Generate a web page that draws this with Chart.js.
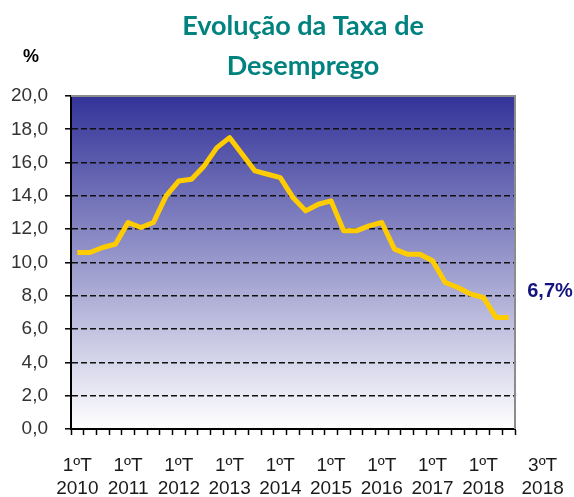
<!DOCTYPE html>
<html>
<head>
<meta charset="utf-8">
<script src="https://cdn.jsdelivr.net/npm/chart.js@4"></script>
<style>
html,body{margin:0;padding:0;background:#fff;}
#wrap{position:relative;width:574px;height:497px;}
canvas{display:block;}
</style>
</head>
<body>
<div id="wrap"><canvas id="c" width="574" height="497"></canvas></div>
<script>
// ---- data ----
const years = ["2010","2011","2012","2013","2014","2015","2016","2017","2018"];
const quarters = ["1ºT","2ºT","3ºT","4ºT"];
const categories = [
 "1ºT 2010","2ºT 2010","3ºT 2010","4ºT 2010",
 "1ºT 2011","2ºT 2011","3ºT 2011","4ºT 2011",
 "1ºT 2012","2ºT 2012","3ºT 2012","4ºT 2012",
 "1ºT 2013","2ºT 2013","3ºT 2013","4ºT 2013",
 "1ºT 2014","2ºT 2014","3ºT 2014","4ºT 2014",
 "1ºT 2015","2ºT 2015","3ºT 2015","4ºT 2015",
 "1ºT 2016","2ºT 2016","3ºT 2016","4ºT 2016",
 "1ºT 2017","2ºT 2017","3ºT 2017","4ºT 2017",
 "1ºT 2018","2ºT 2018","3ºT 2018"
];
const unemployment = [
 10.6,10.6,10.9,11.1,
 12.4,12.1,12.4,14.0,
 14.9,15.0,15.8,16.9,
 17.5,16.5,15.5,15.3,
 15.1,13.9,13.1,13.5,
 13.7,11.9,11.9,12.2,
 12.4,10.8,10.5,10.5,
 10.1,8.8,8.5,8.1,
 7.9,6.7,6.7
];
const titleLines = ["Evolução da Taxa de","Desemprego"];
const unitLabel = "%";
const lastValueLabel = "6,7%";
const lastTickLabel = ["3ºT","2018"];

const TICK_FONT = {family:"'Liberation Sans', Arial, sans-serif", size:19};

const decor = {
  id:'decor',
  beforeDraw(chart){
    const {ctx, chartArea:a} = chart;
    const g = ctx.createLinearGradient(0,a.top,0,a.bottom);
    g.addColorStop(0,'#333399');
    g.addColorStop(1,'#ffffff');
    ctx.save();
    ctx.fillStyle = g;
    ctx.fillRect(a.left,a.top,a.right-a.left,a.bottom-a.top);
    ctx.restore();
  },
  afterDraw(chart){
    const {ctx, chartArea:a} = chart;
    ctx.save();
    // gray top/right border
    ctx.strokeStyle = '#8c8c8c';
    ctx.lineWidth = 2;
    ctx.beginPath();
    ctx.moveTo(a.left, a.top);
    ctx.lineTo(a.right, a.top);
    ctx.lineTo(a.right, a.bottom);
    ctx.stroke();
    // title
    ctx.fillStyle = '#00827F';
    ctx.font = "bold 27px Lato, 'Open Sans', sans-serif";
    ctx.textAlign = 'center';
    ctx.textBaseline = 'alphabetic';
    ctx.fillText(titleLines[0], 303, 35);
    ctx.fillText(titleLines[1], 303, 75);
    // unit
    ctx.fillStyle = '#000';
    ctx.font = "bold 18px 'Liberation Sans', Arial, sans-serif";
    ctx.fillText(unitLabel, 31, 62);
    // last value
    ctx.fillStyle = '#14147f';
    ctx.font = "bold 20px 'Liberation Sans', Arial, sans-serif";
    ctx.fillText(lastValueLabel, 550, 297);
    // last tick label
    const xs = chart.scales.x;
    const px = xs.getPixelForValue(categories.length-1) + 34;
    ctx.fillStyle = '#1a1a1a';
    ctx.font = "19px 'Liberation Sans', Arial, sans-serif";
    ctx.textBaseline = 'middle';
    ctx.fillText(lastTickLabel[0], px, 466);
    ctx.fillText(lastTickLabel[1], px, 466+22.8);
    ctx.restore();
  }
};

new Chart(document.getElementById('c'), {
  type:'line',
  data:{
    labels: categories,
    datasets:[{
      data: unemployment,
      borderColor:'#FFCC00',
      borderWidth:5,
      pointRadius:0,
      tension:0,
      borderJoinStyle:'round',
      borderCapStyle:'butt',
      fill:false
    }]
  },
  options:{
    responsive:false,
    animation:false,
    devicePixelRatio:1,
    layout:{padding:{left:0,right:59,top:96,bottom:0}},
    plugins:{legend:{display:false},tooltip:{enabled:false},title:{display:false}},
    scales:{
      x:{
        type:'category',
        offset:true,
        grid:{offset:true,drawOnChartArea:false,drawTicks:true,tickLength:6,color:'#000',tickColor:'#000',tickWidth:1.5},
        border:{color:'#000',width:2},
        ticks:{
          autoSkip:false,maxRotation:0,minRotation:0,padding:19.6,
          color:'#1a1a1a',font:TICK_FONT,
          callback:function(v,i){
            if(i%4===0 && i<categories.length-1){ return categories[i].split(' '); }
            return '';
          }
        },
        afterFit(s){ s.height = 68; }
      },
      y:{
        min:0,max:20,
        grid:{
          color:(c)=> (c.tick && (c.tick.value===0||c.tick.value===20)) ? 'rgba(0,0,0,0)' : '#111',
          lineWidth:1.6,
          borderDash:[6,3],
          tickColor:'#000',
          tickWidth:1.5,
          tickLength:6,
          tickBorderDash:[],
        },
        border:{color:'#000',width:2,dash:[6,3]},
        ticks:{
          stepSize:2,padding:17,color:'#333',font:TICK_FONT,
          callback:(v)=> Number(v).toFixed(1).replace('.',',')
        },
        afterFit(s){ s.width = 71; }
      }
    }
  },
  plugins:[decor]
});
</script>
</body>
</html>
